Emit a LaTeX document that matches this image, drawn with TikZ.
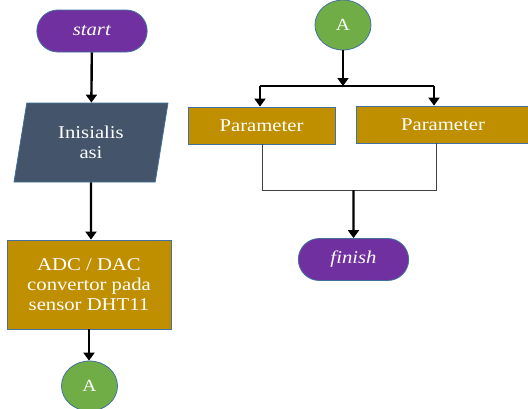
\documentclass[tikz,border=0pt]{standalone}
\usepackage{fontspec}
\setmainfont{Liberation Serif}[FakeStretch=1.15]
\usetikzlibrary{arrows.meta,positioning,shapes.geometric,shapes.misc}

\definecolor{termpurple}{HTML}{7030A0}
\definecolor{iogray}{HTML}{44546A}
\definecolor{procgold}{HTML}{BF8F00}
\definecolor{conngreen}{HTML}{70AD47}
\definecolor{edgeblue}{HTML}{41719C}

\begin{document}
\begin{tikzpicture}[x=1pt,y=-1pt,>={Triangle[width=11pt,length=8pt]},
  every node/.style={draw=edgeblue,line width=0.8pt,text=white,align=center,font=\fontsize{18}{20}\selectfont},
  term/.style={rounded rectangle,fill=termpurple,minimum width=117pt,minimum height=42pt},
  io/.style={trapezium,trapezium left angle=72,trapezium right angle=108,trapezium stretches body,fill=iogray,minimum width=154pt,minimum height=79pt},
  proc/.style={rectangle,fill=procgold},
  conn/.style={ellipse,fill=conngreen,minimum width=56pt,minimum height=50pt,inner sep=0pt,font=\fontsize{17}{18}\selectfont},
  flow/.style={->,line width=2.4pt}]

\useasboundingbox (0,0) rectangle (528,408);

\node[term]   (start)  at (92,31)       {\textit{start}};
 \node[io]     (init)   at (91,142.5)    {Inisialis\\asi};
 \node[proc,minimum width=164pt,minimum height=89pt] (adc) at (89,284.5) {ADC / DAC\\convertor pada\\sensor DHT11};
 \node[conn]   (a1)     at (89.5,386)    {A};

 \node[conn]   (a2)     at (343,25)      {A};
 \node[proc,minimum width=147pt,minimum height=37pt] (par1) at (261.5,125.5) {Parameter};
 \node[proc,minimum width=174pt,minimum height=37pt] (par2) at (443,124.5)   {Parameter};
 \node[term]   (finish) at (353.5,259.5) {\textit{finish}};

 \coordinate (splitL) at (260,86);
 \coordinate (splitR) at (434,86);
 \coordinate (mergeL) at (262,190);
 \coordinate (mergeR) at (436,190);

	\path[flow] (start) edge (init)
	            (init)  edge (init |- adc.north)
	            (adc)   edge (adc |- a1.north);

	% split into both parameters
	\draw[flow] (a2) -- (a2 |- splitL);
	\draw[line width=1.5pt] (splitL) -- (splitR);
	\draw[flow] (splitL) -- (splitL |- par1.north);
	\draw[flow] (splitR) -- (splitR |- par2.north);

	% merge back to finish
	\draw[line width=1pt,black!75] (par1.south -| mergeL) -- (mergeL) -- (mergeR) -- (mergeR |- par2.south);
	\draw[flow] (finish |- mergeL) -- (finish);

\end{tikzpicture}
\end{document}
